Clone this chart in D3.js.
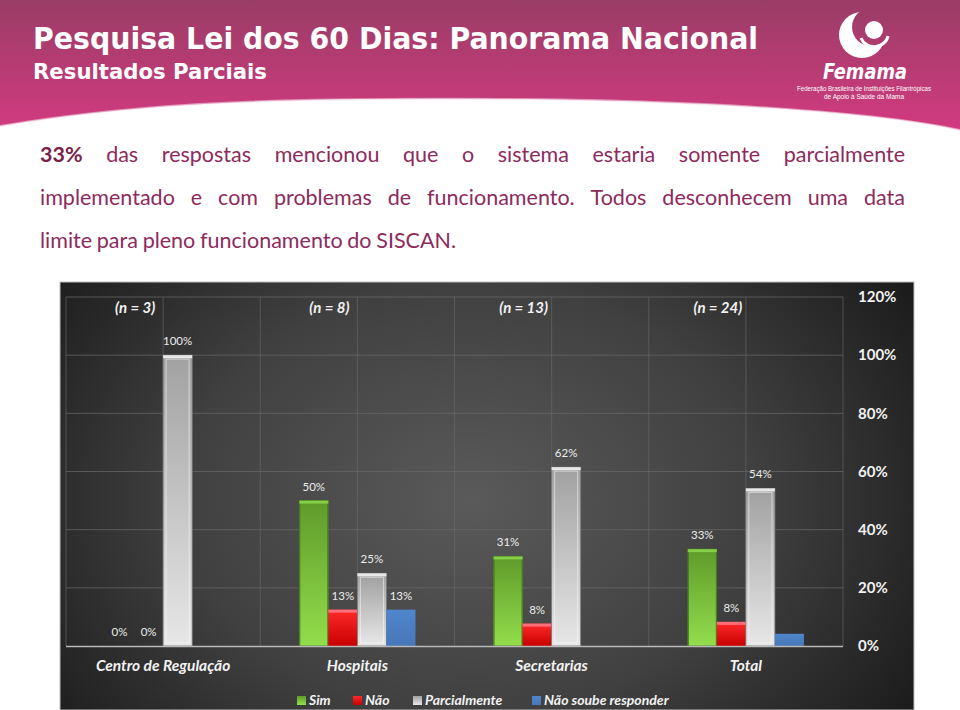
<!DOCTYPE html>
<html><head><meta charset="utf-8">
<script src="https://cdn.jsdelivr.net/npm/d3@7"></script>
<style>html,body{margin:0;padding:0;background:#fff;}svg{display:block;}</style>
</head><body>
<script>
// ---------- data ----------
const categories = ["Centro de Regulação", "Hospitais", "Secretarias", "Total"];
const sampleSizes = ["(n = 3)", "(n = 8)", "(n = 13)", "(n = 24)"];
const series = ["Sim", "Não", "Parcialmente", "Não soube responder"];
const simValues = [0, 50, 30.8, 33.3];
const naoValues = [0, 12.5, 7.7, 8.3];
const parcialValues = [100, 25, 61.5, 54.2];
const naoSoubeValues = [0, 12.5, 0, 4.2];
const simLabels = ["0%", "50%", "31%", "33%"];
const naoLabels = ["0%", "13%", "8%", "8%"];
const parcialLabels = ["100%", "25%", "62%", "54%"];
const naoSoubeLabels = [null, "13%", null, null];
const yTicks = [0, 20, 40, 60, 80, 100, 120];
const title = "Pesquisa Lei dos 60 Dias: Panorama Nacional";
const subtitle = "Resultados Parciais";
const bodyLines = [
  [{t:"33%", b:true}, "das","respostas","mencionou","que","o","sistema","estaria","somente","parcialmente"],
  ["implementado","e","com","problemas","de","funcionamento.","Todos","desconhecem","uma","data"],
  ["limite","para","pleno","funcionamento","do","SISCAN."]
];

const valuesBySeries = [simValues, naoValues, parcialValues, naoSoubeValues];
const labelsBySeries = [simLabels, naoLabels, parcialLabels, naoSoubeLabels];

// ---------- svg ----------
const W = 960, H = 710;
const svg = d3.select("body").append("svg").attr("width", W).attr("height", H);
const defs = svg.append("defs");

// header gradient
const hg = defs.append("linearGradient").attr("id","hdr").attr("x1",0).attr("y1",0).attr("x2",0).attr("y2",1);
hg.append("stop").attr("offset","0%").attr("stop-color","#9a3d66");
hg.append("stop").attr("offset","100%").attr("stop-color","#d23a80");

svg.append("path")
  .attr("d","M0,0 H960 V130 C880,112 700,100 500,99 C300,98 150,100 0,126 Z")
  .attr("fill","url(#hdr)");
svg.append("path")
  .attr("d","M0,126 C150,100 300,98 500,99 C700,100 880,112 960,130")
  .attr("fill","none").attr("stroke","#f3d7e5").attr("stroke-width",2).attr("opacity",0.6);

svg.append("text").attr("x",33).attr("y",49).text(title)
  .attr("font-family","DejaVu Sans, Verdana, sans-serif").attr("font-weight","bold")
  .attr("font-size",30).attr("fill","#fff")
  .attr("textLength",725).attr("lengthAdjust","spacingAndGlyphs");
svg.append("text").attr("x",33).attr("y",79).text(subtitle)
  .attr("font-family","DejaVu Sans, Verdana, sans-serif").attr("font-weight","bold")
  .attr("font-size",21).attr("fill","#fff")
  .attr("textLength",234).attr("lengthAdjust","spacingAndGlyphs");

// logo
const mask = defs.append("mask").attr("id","cres");
mask.append("rect").attr("x",800).attr("y",0).attr("width",160).attr("height",110).attr("fill","#000");
mask.append("circle").attr("cx",862).attr("cy",35).attr("r",23).attr("fill","#fff");
mask.append("circle").attr("cx",871).attr("cy",27).attr("r",19).attr("fill","#000");
const logo = svg.append("g");
logo.append("rect").attr("x",800).attr("y",0).attr("width",160).attr("height",110).attr("fill","#fff").attr("mask","url(#cres)");
logo.append("circle").attr("cx",874).attr("cy",30).attr("r",9).attr("fill","#fff");
logo.append("path").attr("d","M861,38 A14,13 0 0 0 888,36").attr("fill","none").attr("stroke","#fff").attr("stroke-width",3);
logo.append("text").attr("x",865).attr("y",79).attr("text-anchor","middle").text("Femama")
  .attr("font-family","DejaVu Sans, sans-serif").attr("font-style","italic").attr("font-weight","bold")
  .attr("font-size",22).attr("fill","#fff").attr("textLength",84).attr("lengthAdjust","spacingAndGlyphs");
logo.append("text").attr("x",864).attr("y",91).attr("text-anchor","middle").text("Federação Brasileira de Instituições Filantrópicas")
  .attr("font-family","Liberation Sans, sans-serif").attr("font-size",6.5).attr("fill","#fff")
  .attr("textLength",134).attr("lengthAdjust","spacingAndGlyphs");
logo.append("text").attr("x",864).attr("y",99).attr("text-anchor","middle").text("de Apoio à Saúde da Mama")
  .attr("font-family","Liberation Sans, sans-serif").attr("font-size",6.5).attr("fill","#fff")
  .attr("textLength",80).attr("lengthAdjust","spacingAndGlyphs");

// body paragraph (justified)
const bodyFont = "Lato, 'Open Sans', sans-serif";
const bodyLeft = 40, bodyRight = 905, bodySize = 21.5;
const lineY = [162, 205, 248];
bodyLines.forEach((words, li) => {
  const g = svg.append("g");
  const nodes = words.map(w => {
    const o = typeof w === "string" ? {t:w, b:false} : w;
    return g.append("text").text(o.t).attr("y", lineY[li])
      .attr("font-family", bodyFont).attr("font-size", bodySize)
      .attr("font-weight", o.b ? "bold" : "normal")
      .attr("fill", o.b ? "#7a1f4a" : "#8e2a5c");
  });
  const widths = nodes.map(n => n.node().getComputedTextLength());
  const total = d3.sum(widths);
  const justify = li < bodyLines.length - 1;
  const gap = justify ? (bodyRight - bodyLeft - total) / (nodes.length - 1) : bodySize * 0.22;
  let x = bodyLeft;
  nodes.forEach((n, i) => { n.attr("x", x); x += widths[i] + gap; });
});

// ---------- chart panel ----------
const panel = {x0: 60, y0: 282, x1: 914, y1: 710};
const pg = defs.append("radialGradient").attr("id","panel")
  .attr("gradientUnits","userSpaceOnUse").attr("cx",470).attr("cy",500).attr("r",520)
  .attr("gradientTransform","matrix(1,0,0,0.75,0,125)");
pg.append("stop").attr("offset","0%").attr("stop-color","#5a5a5a");
pg.append("stop").attr("offset","55%").attr("stop-color","#404040");
pg.append("stop").attr("offset","100%").attr("stop-color","#1c1c1c");
svg.append("rect").attr("x",panel.x0).attr("y",panel.y0)
  .attr("width",panel.x1-panel.x0).attr("height",panel.y1-panel.y0)
  .attr("fill","url(#panel)").attr("stroke","#bdbdbd").attr("stroke-width",1);

const plot = {left: 66, right: 843, top: 297, bottom: 646};
const x = d3.scaleBand().domain(categories).range([plot.left, plot.right]).padding(0);
const bw = x.bandwidth();
const groupW = bw * 0.598;
const xs = d3.scaleBand().domain(series).range([bw/2 - groupW/2, bw/2 + groupW/2]).padding(0);
const y = d3.scaleLinear().domain([0, 120]).range([plot.bottom, plot.top]);

// gridlines
const grid = svg.append("g");
grid.selectAll("line.h").data(yTicks.filter(t => t > 0)).join("line")
  .attr("x1", plot.left).attr("x2", plot.right)
  .attr("y1", d => y(d)).attr("y2", d => y(d))
  .attr("stroke","#6a6a6a").attr("stroke-width",1).attr("opacity",0.7);
const vlines = [];
categories.forEach(c => { vlines.push(x(c)); vlines.push(x(c) + bw/2); });
vlines.push(plot.right);
grid.selectAll("line.v").data(vlines).join("line")
  .attr("x1", d => d).attr("x2", d => d)
  .attr("y1", plot.top).attr("y2", plot.bottom)
  .attr("stroke","#6a6a6a").attr("stroke-width",1).attr("opacity",0.6);

// right axis
const yAxis = d3.axisRight(y).tickValues(yTicks).tickFormat(d => d + "%").tickSize(0).tickPadding(0);
const ax = svg.append("g").attr("transform", `translate(858,0)`).call(yAxis);
ax.select(".domain").remove();
ax.selectAll("text").attr("fill","#f2f2f2").attr("font-family","Lato, 'Open Sans', sans-serif")
  .attr("font-weight","bold").attr("font-size",15).attr("dy","0.32em").attr("x",0);

// gradients for bars
function vgrad(id, stops, horiz) {
  const g = defs.append("linearGradient").attr("id", id)
    .attr("x1",0).attr("y1",0).attr("x2", horiz ? 1 : 0).attr("y2", horiz ? 0 : 1);
  stops.forEach(s => g.append("stop").attr("offset", s[0]).attr("stop-color", s[1]));
}
vgrad("gSim", [["0%","#5f9a2a"],["100%","#93de4c"]]);
vgrad("gNao", [["0%","#ff2a2a"],["100%","#c80000"]]);
vgrad("gPar", [["0%","#a2a2a2"],["100%","#e6e6e6"]]);
vgrad("gBlu", [["0%","#4f86cc"],["100%","#4777b8"]]);
const fills = ["url(#gSim)", "url(#gNao)", "url(#gPar)", "url(#gBlu)"];
const tops = ["#8ed84f", "#ff7a8a", "#f5f5f5", "#4f86cc"];

// bars
const barData = [];
categories.forEach((c, ci) => series.forEach((s, si) => {
  barData.push({c, s, si, v: valuesBySeries[si][ci], label: labelsBySeries[si][ci]});
}));
const bars = svg.append("g");
barData.filter(d => d.v > 0).forEach(d => {
  const bx = x(d.c) + xs(d.s), bwid = xs.bandwidth(), by = y(d.v), bh = plot.bottom - y(d.v);
  bars.append("rect").attr("x", bx).attr("y", by).attr("width", bwid).attr("height", bh).attr("fill", fills[d.si]);
  if (d.si === 2) {
    bars.append("rect").attr("x", bx + 3).attr("y", by + 4).attr("width", bwid - 6).attr("height", Math.max(0, bh - 7))
      .attr("fill","url(#gPar)").attr("stroke","#ffffff").attr("stroke-opacity",0.5).attr("stroke-width",1);
    bars.append("rect").attr("x", bx).attr("y", by).attr("width", bwid).attr("height", bh)
      .attr("fill","none").attr("stroke","#7a7a7a").attr("stroke-width",0.8);
  }
  if (d.si === 0) {
    bars.append("rect").attr("x", bx + 0.5).attr("y", by).attr("width", bwid - 1).attr("height", bh)
      .attr("fill","none").attr("stroke","#3f7a14").attr("stroke-width",1);
  }
  if (d.si !== 3) {
    bars.append("rect").attr("x", bx).attr("y", by).attr("width", bwid).attr("height", 3).attr("fill", tops[d.si]).attr("opacity",0.85);
  }
});

// baseline
svg.append("line").attr("x1", plot.left).attr("x2", plot.right).attr("y1", plot.bottom + 0.5).attr("y2", plot.bottom + 0.5)
  .attr("stroke","#b8b8b8").attr("stroke-width",1.5);

// data labels
svg.append("g").selectAll("text").data(barData.filter(d => d.label)).join("text")
  .attr("x", d => x(d.c) + xs(d.s) + xs.bandwidth()/2)
  .attr("y", d => y(d.v) - 10)
  .attr("text-anchor","middle")
  .attr("font-family","Lato, 'Open Sans', sans-serif").attr("font-size",11.5)
  .attr("fill","#ececec").text(d => d.label);

// category labels
svg.append("g").selectAll("text").data(categories).join("text")
  .attr("x", d => x(d) + bw/2).attr("y", 671).attr("text-anchor","middle")
  .attr("font-family","Lato, 'Open Sans', sans-serif").attr("font-style","italic").attr("font-weight","bold")
  .attr("font-size",15.5).attr("fill","#f2f2f2").text(d => d);

// sample sizes
svg.append("g").selectAll("text").data(categories).join("text")
  .attr("x", d => x(d) + bw/2 - 28).attr("y", 313).attr("text-anchor","middle")
  .attr("font-family","Lato, 'Open Sans', sans-serif").attr("font-style","italic").attr("font-weight","bold")
  .attr("font-size",15).attr("fill","#f2f2f2").text((d, i) => sampleSizes[i]);

// legend (sits at the bottom edge, as in the original slide)
const legX = [297, 353, 413, 532];
const lg = svg.append("g");
series.forEach((s, i) => {
  lg.append("rect").attr("x", legX[i]).attr("y", 696).attr("width", 9).attr("height", 9).attr("fill", fills[i]);
  lg.append("text").attr("x", legX[i] + 12).attr("y", 705).text(s)
    .attr("font-family","Lato, 'Open Sans', sans-serif").attr("font-style","italic").attr("font-weight","bold")
    .attr("font-size",14).attr("fill","#f2f2f2");
});
</script>
</body></html>
